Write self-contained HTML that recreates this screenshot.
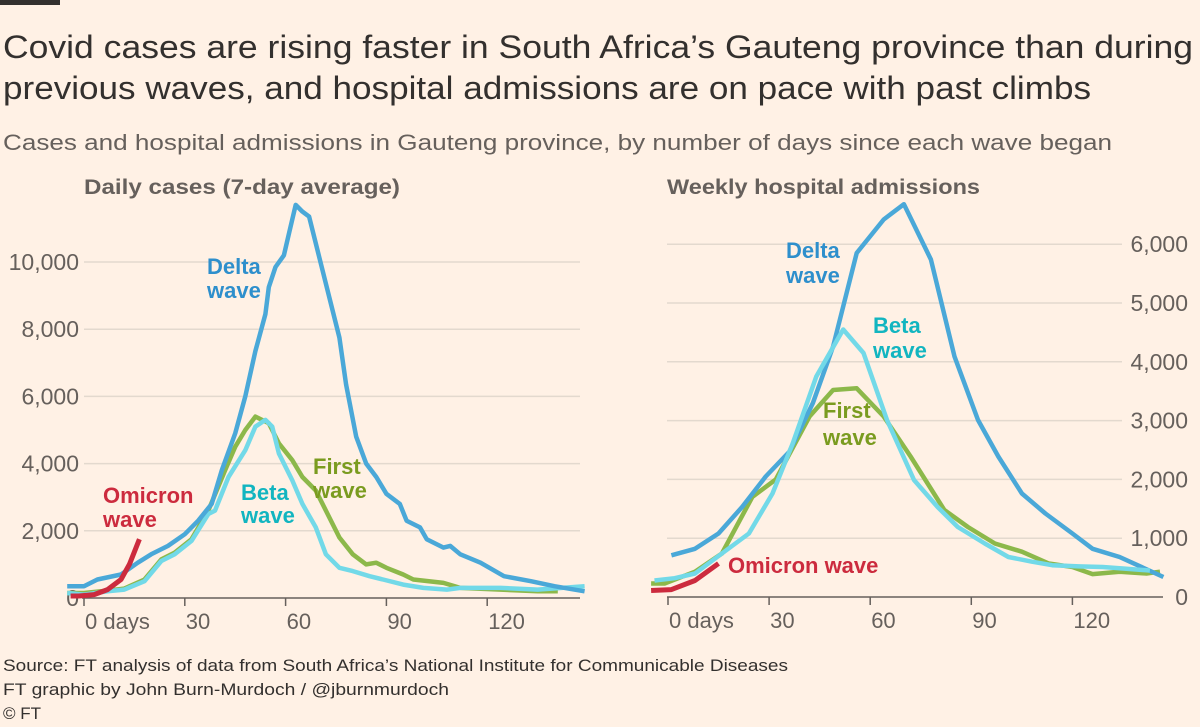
<!DOCTYPE html>
<html><head><meta charset="utf-8"><style>
body{margin:0;background:#fff1e5;font-family:"Liberation Sans",sans-serif;}
#wrap{position:relative;width:1200px;height:727px;overflow:hidden;background:#fff1e5}
</style></head><body>
<div id="wrap">
<svg id="svg" width="1200" height="727" viewBox="0 0 1200 727" xmlns="http://www.w3.org/2000/svg" font-family="Liberation Sans, sans-serif">
<rect x="0" y="0" width="60" height="5" fill="#33302e"/>
<text x="3" y="58" font-size="32" fill="#33302e" textLength="1190" lengthAdjust="spacingAndGlyphs">Covid cases are rising faster in South Africa’s Gauteng province than during</text>
<text x="3" y="99" font-size="32" fill="#33302e" textLength="1088" lengthAdjust="spacingAndGlyphs">previous waves, and hospital admissions are on pace with past climbs</text>
<text x="3" y="150" font-size="22" fill="#66605c" textLength="1109" lengthAdjust="spacingAndGlyphs">Cases and hospital admissions in Gauteng province, by number of days since each wave began</text>
<text x="84" y="194" font-size="21" font-weight="bold" fill="#66605c" textLength="316" lengthAdjust="spacingAndGlyphs">Daily cases (7-day average)</text>
<text x="667" y="194" font-size="21" font-weight="bold" fill="#66605c" textLength="313" lengthAdjust="spacingAndGlyphs">Weekly hospital admissions</text>
<g id="left"></g>
<g id="right"></g>
<text x="3" y="671" font-size="17" fill="#33302e" textLength="785" lengthAdjust="spacingAndGlyphs">Source: FT analysis of data from South Africa’s National Institute for Communicable Diseases</text>
<text x="3" y="695" font-size="17" fill="#33302e" textLength="446" lengthAdjust="spacingAndGlyphs">FT graphic by John Burn-Murdoch / @jburnmurdoch</text>
<text x="3" y="719" font-size="17" fill="#33302e">© FT</text>
</svg>
</div>
<script>
// Left chart: daily cases
const casesDeltaDays=[-5,0,4,11,16,20,25,30,34,38,41,45,48,51,54,55,57,59.5,61,63,65,67,70,73,76,78,81,84,87,90,94,96,100,102,107,109,112,118,125,133,140,149];
const casesDelta=[350,350,550,700,1050,1300,1550,1900,2300,2800,3800,4900,6000,7350,8450,9250,9850,10200,10850,11700,11500,11350,10150,8950,7750,6350,4800,4000,3600,3100,2800,2300,2100,1750,1500,1550,1300,1050,650,500,350,200];
const casesFirstDays=[-5,0,7,12,18,23,27,32,37,42,45,48,51,55,58,62,65,69,72,76,80,84,87,90,95,98,107,112,124,135,141];
const casesFirst=[150,150,220,280,550,1150,1350,1750,2600,3800,4500,5000,5400,5200,4600,4100,3600,3200,2600,1800,1300,1000,1050,900,700,550,450,300,250,200,200];
const casesBetaDays=[-5,0,7,12,18,23,27,32,37,39,43,48,51,54,56,58,62,65,69,72,76,80,85,89,95,101,108,112,124,135,149];
const casesBeta=[150,100,200,250,500,1100,1300,1700,2500,2600,3600,4400,5100,5300,5100,4300,3500,2800,2100,1300,900,800,650,550,400,300,250,300,300,250,350];
const casesOmicronDays=[-4,-1.5,3,7,11,13.5,16.5];
const casesOmicron=[60,60,100,250,550,1000,1750];
const casesTicks=[0,2000,4000,6000,8000,10000];
const casesTickLabels=["0","2,000","4,000","6,000","8,000","10,000"];
const dayTicks=[0,30,60,90,120];
const dayTickLabels=["0 days","30","60","90","120"];
// Right chart: weekly admissions
const admDeltaDays=[1,8,15,22,29,36,43,49,56,64,70,78,85,92,98,105,112,120,126,134,147];
const admDelta=[710,820,1080,1530,2050,2470,3300,4260,5850,6420,6680,5740,4090,3010,2390,1760,1420,1080,820,680,340];
const admFirstDays=[-5,-1,8,16,25,32,42,49,56,64,72,82,89,97,105,113,120,126,134,142,146];
const admFirst=[230,230,430,740,1700,2000,3070,3520,3550,3070,2390,1480,1190,910,770,570,510,390,430,400,430];
const admBetaDays=[-4,2,8,16,24,31,37,44,52,58,65,73,80,86,94,101,108,114,122,129,136,143];
const admBeta=[280,320,400,740,1080,1760,2610,3750,4550,4150,3010,1990,1530,1190,910,680,600,540,520,510,480,450];
const admOmicronDays=[-5,1,8,15];
const admOmicron=[110,125,280,570];
const admTicks=[0,1000,2000,3000,4000,5000,6000];
const admTickLabels=["0","1,000","2,000","3,000","4,000","5,000","6,000"];

const NS="http://www.w3.org/2000/svg";
function mk(parent,tag,attrs){const e=document.createElementNS(NS,tag);for(const k in attrs)e.setAttribute(k,attrs[k]);parent.appendChild(e);return e;}
const C={delta:"#4aa8d8",first:"#8cb84a",beta:"#72d9e8",omicron:"#cc2b3e"};

function drawChart(g,cfg){
  const xs=d=>cfg.x0+d*cfg.px;
  const ys=v=>cfg.y0-v*cfg.py;
  cfg.ticks.forEach((t,i)=>{
    if(t>0){const l=mk(g,"line",{x1:cfg.gx1,x2:cfg.gx2,y1:ys(t),y2:ys(t),stroke:"#e3d9ce","stroke-width":1.5});
    
    }
    const tx=mk(g,"text",{x:cfg.lx,y:ys(t)+8,"font-size":23,fill:"#66605c","text-anchor":cfg.anchor});
    tx.textContent=cfg.tickLabels[i];
    
    
  });
  const ax=mk(g,"line",{x1:cfg.ax1,x2:cfg.ax2,y1:cfg.y0,y2:cfg.y0,stroke:"#66605c","stroke-width":1.5});
  
  
  dayTicks.forEach((d,i)=>{
    const tl=mk(g,"line",{x1:xs(d),x2:xs(d),y1:cfg.y0,y2:cfg.y0+8,stroke:"#66605c","stroke-width":1.5});
    
    
    const tx=mk(g,"text",{x:xs(d)+1,y:cfg.y0+31,"font-size":22,fill:"#66605c"});
    tx.textContent=dayTickLabels[i];
    
    
  });
  cfg.series.forEach(s=>{
    const d=s.days.map((dd,i)=>(i?"L":"M")+xs(dd).toFixed(1)+","+ys(s.vals[i]).toFixed(1)).join("");
    const p=mk(g,"path",{d:d,fill:"none",stroke:s.color,"stroke-width":s.w||4.5,"stroke-linejoin":"round"});
    
    
  });
  cfg.labels.forEach(lb=>{
    const t=mk(g,"text",{x:lb.x,y:lb.y,"font-size":22,"font-weight":"bold",fill:lb.c});
    t.textContent=lb.t;
    
    
  });
}
drawChart(document.getElementById("left"),{x0:84,px:3.36,y0:598,py:0.0336,gx1:84,gx2:580,ax1:82,ax2:580,lx:79,anchor:"end",
  ticks:casesTicks,tickLabels:casesTickLabels,
  series:[{days:casesFirstDays,vals:casesFirst,color:C.first,name:"first-wave-cases-line"},
          {days:casesBetaDays,vals:casesBeta,color:C.beta,name:"beta-wave-cases-line"},
          {days:casesDeltaDays,vals:casesDelta,color:C.delta,name:"delta-wave-cases-line"},
          {days:casesOmicronDays,vals:casesOmicron,color:C.omicron,name:"omicron-wave-cases-line",w:5}],
  labels:[{t:"Delta",x:207,y:274,c:"#2e8fcc",n:"delta-label"},{t:"wave",x:207,y:298,c:"#2e8fcc",n:"delta-label-2"},
    {t:"Omicron",x:103,y:503,c:"#cc2b3e",n:"omicron-label"},{t:"wave",x:103,y:527,c:"#cc2b3e",n:"omicron-label-2"},
    {t:"Beta",x:241,y:500,c:"#12b5c0",n:"beta-label"},{t:"wave",x:241,y:523,c:"#12b5c0",n:"beta-label-2"},
    {t:"First",x:313,y:474,c:"#7a9b1f",n:"first-label"},{t:"wave",x:313,y:498,c:"#7a9b1f",n:"first-label-2"}]});
drawChart(document.getElementById("right"),{x0:668,px:3.37,y0:597,py:0.0588,gx1:667,gx2:1122,ax1:667,ax2:1163,lx:1188,anchor:"end",
  ticks:admTicks,tickLabels:admTickLabels,
  series:[{days:admFirstDays,vals:admFirst,color:C.first,name:"first-wave-admissions-line"},
          {days:admDeltaDays,vals:admDelta,color:C.delta,name:"delta-wave-admissions-line"},
          {days:admBetaDays,vals:admBeta,color:C.beta,name:"beta-wave-admissions-line"},
          {days:admOmicronDays,vals:admOmicron,color:C.omicron,name:"omicron-wave-admissions-line",w:5}],
  labels:[{t:"Delta",x:786,y:258,c:"#2e8fcc",n:"delta-label-right"},{t:"wave",x:786,y:283,c:"#2e8fcc",n:"delta-label-right-2"},
    {t:"Beta",x:873,y:333,c:"#12b5c0",n:"beta-label-right"},{t:"wave",x:873,y:358,c:"#12b5c0",n:"beta-label-right-2"},
    {t:"First",x:823,y:418,c:"#7a9b1f",n:"first-label-right"},{t:"wave",x:823,y:445,c:"#7a9b1f",n:"first-label-right-2"},
    {t:"Omicron wave",x:728,y:573,c:"#cc2b3e",n:"omicron-label-right"}]});
</script>
</body></html>
